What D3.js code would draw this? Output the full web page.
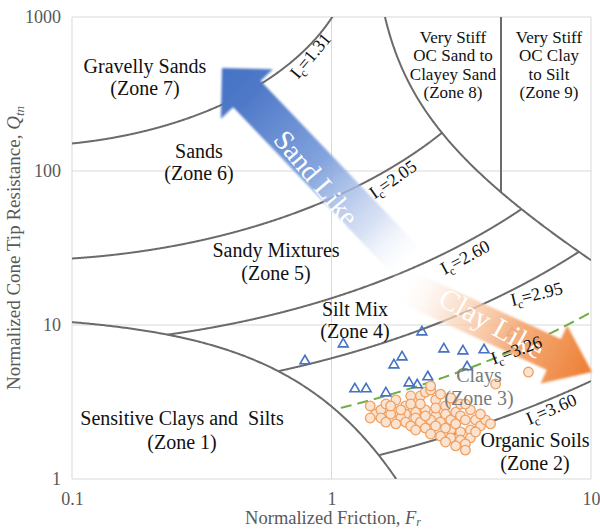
<!DOCTYPE html>
<html>
<head>
<meta charset="utf-8">
<script src="https://cdn.jsdelivr.net/npm/d3@7"></script>
<style>
  body { margin: 0; background: #fff; }
  text { font-family: "Liberation Serif", "DejaVu Serif", serif; }
</style>
</head>
<body>
<svg id="chart" width="600" height="529"></svg>
<script>
// ---- data ----
var xTicks = [0.1, 1, 10];
var yTicks = [1, 10, 100, 1000];

// soil behaviour type index boundaries (Robertson)
var icSolid = [1.31, 2.05, 2.60, 2.95, 3.60];
var icDashed = 3.26;
var icLabels = ["1.31", "2.05", "2.60", "2.95", "3.26", "3.60"];

// sand-like points (triangles)
var triF = [0.79, 1.11, 2.23, 2.71, 1.87, 1.74, 1.23, 1.36,
            1.62, 1.99, 2.14, 2.35, 3.21, 3.87, 3.33, 4.96];
var triQ = [5.93, 7.64, 9.14, 7.09, 6.29, 5.58, 3.90, 3.90,
            3.67, 4.26, 4.14, 4.67, 6.88, 6.99, 5.42, 9.01];

// clay-like points (circles)
var cirF = [1.41, 1.48, 1.41, 1.55, 1.62, 1.77, 1.93, 1.93,
            2.11, 2.20, 2.30, 2.41, 2.30, 2.52, 2.75, 2.52,
            2.02, 2.11, 2.11, 1.77, 1.69, 1.85, 2.75, 2.63,
            2.41, 2.20, 2.02, 1.85, 1.69, 1.55, 1.62, 1.77,
            1.93, 2.02, 2.20, 2.41, 2.63, 2.88, 3.01, 3.14,
            3.28, 3.59, 3.75, 3.43, 3.14, 2.88, 3.01, 2.75,
            2.52, 2.30, 2.11, 2.63, 2.88, 3.14, 3.43, 3.28,
            3.01, 3.28, 3.92, 4.10, 3.75, 3.43, 3.14, 2.88,
            2.52, 2.30, 4.29, 5.74, 3.28, 2.75, 3.59, 2.41];
var cirQ = [2.98, 2.64, 2.49, 2.81, 3.07, 3.26, 2.98, 2.64,
            3.26, 3.46, 3.67, 3.78, 2.81, 3.26, 2.98, 2.57,
            3.46, 2.72, 2.49, 2.72, 2.64, 2.49, 2.64, 3.56,
            4.02, 3.07, 3.07, 2.81, 2.98, 2.49, 2.34, 2.28,
            2.34, 2.21, 2.34, 2.42, 2.34, 2.42, 2.72, 2.57,
            2.42, 2.42, 2.21, 2.08, 2.02, 2.08, 2.28, 2.14,
            2.21, 2.14, 2.08, 1.90, 1.85, 1.79, 1.85, 1.69,
            1.64, 1.54, 2.42, 2.28, 2.64, 2.81, 3.07, 3.36,
            2.89, 2.57, 4.14, 4.95, 3.07, 1.74, 2.02, 1.96];

// ---- setup ----
var svg = d3.select("#chart");
var x = d3.scaleLog().domain([0.1, 10]).range([72, 591]);
var y = d3.scaleLog().domain([1, 1000]).range([479, 17]);
var lineColor = "#6b6b6b";
var gray = "#595959";

// chart boundary functions
function icQ(c, f) { // Q on an Ic contour
  var t = c * c - Math.pow(Math.log10(f) + 1.22, 2);
  return t < 0 ? null : Math.pow(10, 3.47 - Math.sqrt(t));
}
function zone1Q(f) { return 12 * Math.exp(-1.4 * f); }
var z8a = 0.0044, z8F0 = 1.38;
function zone8Q(f) { return 1 / (z8a * (f - z8F0)); }

var defs = svg.append("defs");
defs.append("clipPath").attr("id", "plotClip")
  .append("rect").attr("x", 72).attr("y", 17).attr("width", 519).attr("height", 462);

// region between zone 1 and zone 8/9 boundaries
var fz1end = Math.log(12) / 1.4;
var fz8top = z8F0 + 0.001 / z8a;
var region = [];
d3.range(0, 101).forEach(function (i) {
  var f = Math.pow(10, -1 + i / 100 * (Math.log10(fz1end) + 1));
  region.push([x(f), y(zone1Q(f))]);
});
region.push([x(10), y(1)]);
d3.range(0, 101).forEach(function (i) {
  var f = Math.pow(10, 1 - i / 100 * (1 - Math.log10(fz8top)));
  region.push([x(f), y(zone8Q(f))]);
});
region.push([x(0.1), y(1000)]);
defs.append("clipPath").attr("id", "icClip")
  .append("path").attr("d", "M" + region.join("L") + "Z");

// ---- grid and frame ----
var grid = svg.append("g").attr("stroke", "#d9d9d9").attr("stroke-width", 1);
grid.selectAll(".gx").data(xTicks).enter().append("line")
  .attr("x1", d => x(d)).attr("x2", d => x(d))
  .attr("y1", y(1)).attr("y2", y(1000));
grid.selectAll(".gy").data(yTicks).enter().append("line")
  .attr("x1", x(0.1)).attr("x2", x(10))
  .attr("y1", d => y(d)).attr("y2", d => y(d));

// ---- axes ----
var xAxis = d3.axisBottom(x).tickValues(xTicks).tickFormat(d3.format("~g"))
  .tickSize(0).tickPadding(13);
var yAxis = d3.axisLeft(y).tickValues(yTicks).tickFormat(d3.format("~g"))
  .tickSize(0).tickPadding(11);
svg.append("g").attr("transform", "translate(0," + y(1) + ")").call(xAxis)
  .call(g => g.select(".domain").remove())
  .selectAll("text").attr("font-size", 18).attr("fill", gray)
  .attr("font-family", "Liberation Serif");
svg.append("g").attr("transform", "translate(" + x(0.1) + ",0)").call(yAxis)
  .call(g => g.select(".domain").remove())
  .selectAll("text").attr("font-size", 18).attr("fill", gray)
  .attr("font-family", "Liberation Serif");

var xt = svg.append("text").attr("x", 333).attr("y", 524)
  .attr("text-anchor", "middle").attr("font-size", 18.5).attr("fill", gray);
xt.append("tspan").text("Normalized Friction, ");
xt.append("tspan").attr("font-style", "italic").text("F");
xt.append("tspan").attr("font-style", "italic").attr("font-size", 12).attr("dy", 2).text("r");

var yt = svg.append("text").attr("transform", "translate(20,248) rotate(-90)")
  .attr("text-anchor", "middle").attr("font-size", 19).attr("fill", gray);
yt.append("tspan").text("Normalized Cone Tip Resistance, ");
yt.append("tspan").attr("font-style", "italic").text("Q");
yt.append("tspan").attr("font-style", "italic").attr("font-size", 13).attr("dy", 4).text("tn");

// ---- boundary lines ----
var line = d3.line().x(d => x(d[0])).y(d => y(d[1]));
var fSteps = d3.range(0, 801).map(i => Math.pow(10, -1 + i / 400));

var plot = svg.append("g").attr("clip-path", "url(#plotClip)");
var icG = plot.append("g").attr("clip-path", "url(#icClip)");

icSolid.forEach(function (c) {
  var pts = fSteps.map(f => [f, icQ(c, f)]).filter(d => d[1] !== null);
  icG.append("path").attr("d", line(pts))
    .attr("fill", "none").attr("stroke", lineColor).attr("stroke-width", 2);
});
var dashPts = fSteps.map(f => [f, icQ(icDashed, f)]).filter(d => d[1] !== null);
icG.append("path").attr("d", line(dashPts))
  .attr("fill", "none").attr("stroke", "#70ad47").attr("stroke-width", 2)
  .attr("stroke-dasharray", "11,6");

// zone 1 boundary
var z1 = d3.range(0, 201).map(i => {
  var f = Math.pow(10, -1 + i / 200 * (Math.log10(fz1end) + 1));
  return [f, zone1Q(f)];
});
plot.append("path").attr("d", line(z1))
  .attr("fill", "none").attr("stroke", lineColor).attr("stroke-width", 2);

// zone 8/9 boundary
var z8 = d3.range(0, 201).map(i => {
  var f = Math.pow(10, Math.log10(fz8top) + i / 200 * (1 - Math.log10(fz8top)));
  return [f, zone8Q(f)];
});
plot.append("path").attr("d", line(z8))
  .attr("fill", "none").attr("stroke", lineColor).attr("stroke-width", 2);
plot.append("line")
  .attr("x1", x(4.5)).attr("x2", x(4.5))
  .attr("y1", y(1000)).attr("y2", y(zone8Q(4.5)))
  .attr("stroke", lineColor).attr("stroke-width", 2);

// ---- points ----
var tri = triF.map((f, i) => ({ f: f, q: triQ[i] }));
var cir = cirF.map((f, i) => ({ f: f, q: cirQ[i] }));

plot.selectAll(".cir").data(cir).enter().append("circle")
  .attr("cx", d => x(d.f)).attr("cy", d => y(d.q)).attr("r", 4.8)
  .attr("fill", "#fbe3d2").attr("stroke", "#f0a060").attr("stroke-width", 1.3);

plot.selectAll(".tri").data(tri).enter().append("path")
  .attr("d", d3.symbol().type(d3.symbolTriangle).size(42))
  .attr("transform", d => "translate(" + x(d.f) + "," + (y(d.q) + 1) + ")")
  .attr("fill", "none").attr("stroke", "#4472c4").attr("stroke-width", 1.6);

// ---- arrows ----
defs.append("filter").attr("id", "soft")
  .append("feGaussianBlur").attr("stdDeviation", 1.3);

function arrow(id, x0, y0, x1, y1, w, h, hl, stops) {
  var L = Math.hypot(x1 - x0, y1 - y0);
  var ang = Math.atan2(y1 - y0, x1 - x0) * 180 / Math.PI;
  var gr = defs.append("linearGradient").attr("id", id)
    .attr("gradientUnits", "userSpaceOnUse")
    .attr("x1", 0).attr("y1", 0).attr("x2", L).attr("y2", 0);
  stops.forEach(s => gr.append("stop").attr("offset", s[0])
    .attr("stop-color", s[1]).attr("stop-opacity", s[2]));
  var g = svg.append("g").attr("transform", "translate(" + x0 + "," + y0 + ") rotate(" + ang + ")");
  var poly = [[0, -w], [L - hl, -w], [L - hl, -h], [L, 0], [L - hl, h], [L - hl, w], [0, w]];
  g.append("path").attr("d", "M" + poly.join("L") + "Z")
    .attr("fill", "url(#" + id + ")").attr("filter", "url(#soft)");
  return g;
}

arrow("blueGrad", 410, 265, 222, 68, 19, 36, 36,
  [[0, "#ffffff", 0.1], [0.2, "#c9d6f0", 0.7], [0.5, "#7c9fdc", 0.95], [0.85, "#5079c8", 1], [1, "#4472c4", 1]]);
svg.append("text").attr("transform", "translate(314,180) rotate(50)")
  .attr("text-anchor", "middle").attr("dominant-baseline", "middle")
  .attr("font-size", 28).attr("fill", "#ffffff").text("Sand Like");

arrow("orangeGrad", 402, 285, 592, 372, 17, 32, 42,
  [[0, "#ffffff", 0.1], [0.25, "#fadbc4", 0.7], [0.6, "#f4aa76", 0.95], [1, "#ed7d31", 1]]);
svg.append("text").attr("transform", "translate(490,326) rotate(29)")
  .attr("text-anchor", "middle").attr("dominant-baseline", "middle")
  .attr("font-size", 29).attr("fill", "#ffffff").text("Clay Like");

// ---- Ic labels ----
var icPos = [[312, 57, -50], [394, 181, -35], [466, 259, -28],
             [537, 296, -14], [517, 352, -20], [552, 411, -23]];
icLabels.forEach(function (t, i) {
  var p = icPos[i];
  var tx = svg.append("text")
    .attr("transform", "translate(" + p[0] + "," + p[1] + ") rotate(" + p[2] + ")")
    .attr("text-anchor", "middle").attr("dominant-baseline", "middle")
    .attr("font-size", 18).attr("fill", "#111");
  tx.append("tspan").text("I");
  tx.append("tspan").attr("font-size", 12).attr("dy", 5).text("c");
  tx.append("tspan").attr("dy", -5).text("=" + t);
});

// ---- zone labels ----
function zone(lines, cx, by, fs, lh, col) {
  var t = svg.append("text").attr("text-anchor", "middle").attr("font-size", fs)
    .attr("fill", col || "#111").style("white-space", "pre");
  lines.forEach(function (s, i) {
    t.append("tspan").attr("x", cx).attr("y", by + i * lh).text(s);
  });
}
zone(["Gravelly Sands", "(Zone 7)"], 145, 73, 20, 22);
zone(["Sands", "(Zone 6)"], 199, 158, 20, 22);
zone(["Sandy Mixtures", "(Zone 5)"], 276, 257, 20, 23);
zone(["Silt Mix", "(Zone 4)"], 355, 316, 20, 22);
zone(["Sensitive Clays and  Silts", "(Zone 1)"], 182, 425, 20, 24);
zone(["Clays", "(Zone 3)"], 479, 382, 20, 23, "#7a7a7a");
zone(["Organic Soils", "(Zone 2)"], 535, 447, 20, 23);
zone(["Very Stiff", "OC Sand to", "Clayey Sand", "(Zone 8)"], 453, 43, 17, 18.3);
zone(["Very Stiff", "OC Clay", "to Silt", "(Zone 9)"], 549, 43, 17, 18.3);
</script>
</body>
</html>
